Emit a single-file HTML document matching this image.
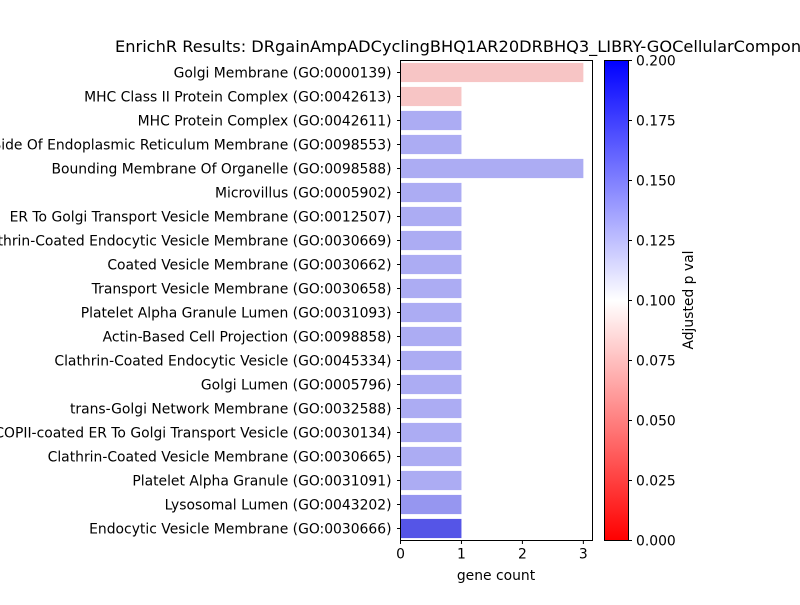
<!DOCTYPE html>
<html><head><meta charset="utf-8"><style>
body{margin:0;background:#fff}
svg text{font-family:"DejaVu Sans","Liberation Sans",sans-serif;fill:#000}
</style></head><body>
<svg id="chart" width="800" height="600" viewBox="0 0 800 600" xmlns="http://www.w3.org/2000/svg">
<defs>
<linearGradient id="cbg" x1="0" y1="1" x2="0" y2="0">
<stop offset="0" stop-color="#ff0000"/><stop offset="0.5" stop-color="#ffffff"/><stop offset="1" stop-color="#0000ff"/>
</linearGradient>
</defs>
<text x="496" y="52" font-size="16.2" text-anchor="middle">EnrichR Results: DRgainAmpADCyclingBHQ1AR20DRBHQ3_LIBRY-GOCellularComponent_2018</text>
<g id="bars"></g>
<rect x="400.5" y="60.5" width="192" height="480" fill="none" stroke="#000" stroke-width="1"/>
<g id="xaxis"></g>
<text x="496" y="580" font-size="13.9" text-anchor="middle">gene count</text>
<rect x="604.5" y="60.5" width="24" height="480" fill="url(#cbg)" stroke="#000" stroke-width="1"/>
<g id="cbticks"></g>
<text x="0" y="0" font-size="13.9" text-anchor="middle" transform="translate(693,300) rotate(-90)">Adjusted p val</text>
</svg>
<script>
const categories = ["Golgi Membrane (GO:0000139)","MHC Class II Protein Complex (GO:0042613)","MHC Protein Complex (GO:0042611)","Integral Component Of Lumenal Side Of Endoplasmic Reticulum Membrane (GO:0098553)","Bounding Membrane Of Organelle (GO:0098588)","Microvillus (GO:0005902)","ER To Golgi Transport Vesicle Membrane (GO:0012507)","Clathrin-Coated Endocytic Vesicle Membrane (GO:0030669)","Coated Vesicle Membrane (GO:0030662)","Transport Vesicle Membrane (GO:0030658)","Platelet Alpha Granule Lumen (GO:0031093)","Actin-Based Cell Projection (GO:0098858)","Clathrin-Coated Endocytic Vesicle (GO:0045334)","Golgi Lumen (GO:0005796)","trans-Golgi Network Membrane (GO:0032588)","COPII-coated ER To Golgi Transport Vesicle (GO:0030134)","Clathrin-Coated Vesicle Membrane (GO:0030665)","Platelet Alpha Granule (GO:0031091)","Lysosomal Lumen (GO:0043202)","Endocytic Vesicle Membrane (GO:0030666)"];
const geneCounts = [3,1,1,1,3,1,1,1,1,1,1,1,1,1,1,1,1,1,1,1];
const pvals = [0.074,0.074,0.137,0.137,0.137,0.137,0.137,0.137,0.137,0.137,0.137,0.137,0.137,0.137,0.137,0.137,0.137,0.137,0.147,0.176];
const xTicks = [0,1,2,3];
const cbTicks = [0,0.025,0.05,0.075,0.1,0.125,0.15,0.175,0.2];
const cbLabels = ["0.000","0.025","0.050","0.075","0.100","0.125","0.150","0.175","0.200"];

const NS="http://www.w3.org/2000/svg";
const X0=400.5, XMAX=3.15, W=192, Y0=60.5, H=480;
const xs=v=>X0+v/XMAX*W;
const slot=H/categories.length;
const ys=i=>Y0+i*slot;
const cbY=v=>Y0+H-v/0.2*H;
function cmap(p){
  let t=p/0.2, r,g,b;
  if(t<0.5){r=1;g=b=t*2;} else {b=1;r=g=(1-t)*2;}
  const mx=Math.max(r,g,b), mn=Math.min(r,g,b), l=(mx+mn)/2;
  let s = mx===mn?0:(l>0.5?(mx-mn)/(2-mx-mn):(mx-mn)/(mx+mn));
  s*=0.75;
  const c=(1-Math.abs(2*l-1))*s, hi=l+c/2, lo=l-c/2;
  const f=v=>Math.round(255*(lo+(v-mn)/((mx-mn)||1)*(hi-lo)));
  return `rgb(${f(r)},${f(g)},${f(b)})`;
}
function el(tag,attrs,parent,txt){const e=document.createElementNS(NS,tag);for(const k in attrs)e.setAttribute(k,attrs[k]);if(txt!==undefined)e.textContent=txt;parent.appendChild(e);return e;}
const bars=document.getElementById('bars');
categories.forEach((c,i)=>{
  const r=el('rect',{x:X0,y:ys(i)+slot*0.1,width:xs(geneCounts[i])-X0,height:slot*0.8,fill:cmap(pvals[i])},bars);
  
  
  const yc=ys(i)+slot/2;
  const tk=el('line',{x1:X0-3.5,x2:X0,y1:yc,y2:yc,stroke:'#000'},bars);
  
  
  const t=el('text',{x:X0-9,y:yc+5,'font-size':13.9,'text-anchor':'end'},bars,c);
  
  
});
const xa=document.getElementById('xaxis');
xTicks.forEach(v=>{
  const tk=el('line',{x1:xs(v),x2:xs(v),y1:Y0+H,y2:Y0+H+3.5,stroke:'#000'},xa);
  
  
  const t=el('text',{x:xs(v),y:Y0+H+18,'font-size':13.9,'text-anchor':'middle'},xa,String(v));
  
  
});
const cb=document.getElementById('cbticks');
cbTicks.forEach((v,i)=>{
  const tk=el('line',{x1:628.5,x2:632,y1:cbY(v),y2:cbY(v),stroke:'#000'},cb);
  
  
  const t=el('text',{x:636,y:cbY(v)+5,'font-size':13.9},cb,cbLabels[i]);
  
  
});
</script>
</body></html>
